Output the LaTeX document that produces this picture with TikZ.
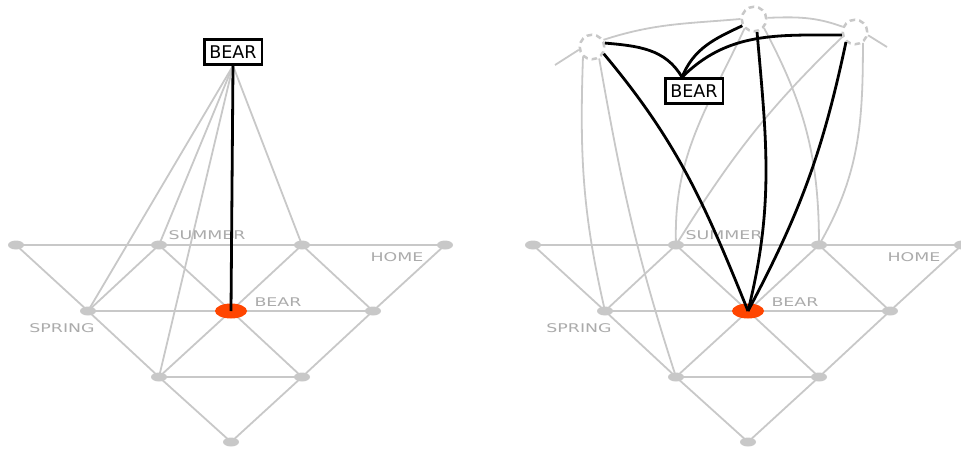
\documentclass[tikz,border=0pt]{standalone}
\usepackage{fontspec}
\setmainfont{DejaVu Sans}
\usepackage{graphicx}
\usetikzlibrary{shapes.geometric}

\definecolor{edgegray}{HTML}{C8C8C8}
\definecolor{labelgray}{HTML}{ABABAB}
\definecolor{hubred}{HTML}{FF4500}

\pgfdeclarelayer{bg}
\pgfsetlayers{bg,main}

\newcommand{\widelabel}[1]{\scalebox{1.45}[1]{#1}}

\tikzset{
  dot/.style={ellipse, fill=edgegray, minimum width=16pt, minimum height=9pt, inner sep=0pt},
  hub/.style={ellipse, fill=hubred, minimum width=32pt, minimum height=15pt, inner sep=0pt},
  lbl/.style={text=labelgray, font=\fontsize{12}{14}\selectfont, inner sep=0pt},
  card/.style={draw, line width=2.5pt, fill=white, font=\fontsize{17.5}{20}\selectfont,
    minimum width=57.5pt, minimum height=25pt, inner sep=0pt},
  ghost/.style={circle, draw=edgegray, dash pattern=on 5.5pt off 4pt, line width=2.5pt,
    minimum size=24.5pt, inner sep=0pt},
  grid edge/.style={draw=edgegray, line width=1.8pt},
  link/.style={draw=black, line width=2.8pt},
}

\begin{document}
\begin{tikzpicture}[x=1pt, y=1pt]
\useasboundingbox (0,0) rectangle (961,-453);

% the same word lattice twice, right copy shifted by 517
\foreach \p/\dx in {l/0, r/517} {
  \foreach \n/\x/\y in {1/16/245, 2/159/245, 3/302/245, 4/445/245, 5/88/311,
                        7/373/311, 8/159/377, 9/302/377, 10/231/442}
    \node[dot] (\p\n) at (\x+\dx,-\y) {};
  \node[hub] (\p6) at (231+\dx,-311) {};

  % grey words
  \node[lbl] (\p-summer) at (207+\dx,-235) {\widelabel{SUMMER}};
  \node[lbl] (\p-home)   at (397+\dx,-257) {\widelabel{HOME}};
  \node[lbl] (\p-bear)   at (278+\dx,-302) {\widelabel{BEAR}};
  \node[lbl] (\p-spring) at (62+\dx,-328)  {\widelabel{SPRING}};

  \begin{pgfonlayer}{bg}
    \foreach \a/\b in {1/2,2/3,3/4,1/5,2/5,2/6,3/6,3/7,4/7,5/6,6/7,
                       5/8,6/8,6/9,7/9,8/9,8/10,9/10}
      \draw[grid edge] (\p\a.center) -- (\p\b.center);
  \end{pgfonlayer}
}

% left: query word above the lattice
\node[card] (lbox) at (233,-52) {BEAR};
\begin{pgfonlayer}{bg}
  \foreach \t in {5,2,8,3}
    \draw[grid edge] (lbox.south) -- (l\t.center);
\end{pgfonlayer}
\draw[link] (lbox.south) -- (l6.center);

% right: query word with three senses
\node[card] (rbox) at (694,-91) {BEAR};
\node[ghost] (ga) at (592,-47) {};
\node[ghost] (gb) at (754,-19) {};
\node[ghost] (gc) at (855,-32) {};
\coordinate (rjoin) at ([xshift=-12pt]rbox.north);
\coordinate (astub) at (555,-65);
\coordinate (cstub) at (887,-47);

\begin{pgfonlayer}{bg}
  \draw[grid edge] (ga.192) -- (astub);
  \draw[grid edge] (gc.-14) -- (cstub);
  \draw[grid edge] (ga.32) to[out=18,in=185] (gb.180);
  \draw[grid edge] (gb.5) to[out=2,in=160] (gc.157);
  \draw[grid edge] (ga.228) to[out=-92,in=103] (r5.center);
  \draw[grid edge] (ga.-58) to[out=-80,in=108] (r8.center);
  \draw[grid edge] (gb.225) to[out=-115,in=92] (r2.center);
  \draw[grid edge] (gc.201) to[out=-136,in=58] (r2.center);
  \draw[grid edge] (gb.-42) to[out=-62,in=90] (r3.center);
  \draw[grid edge] (gc.-54) to[out=-90,in=60] (r3.center);
\end{pgfonlayer}

\draw[link] (ga.17) to[out=-5,in=120] (rjoin);
\draw[link] (gb.210) to[out=205,in=68] (rjoin);
\draw[link] (gc.193) to[out=180,in=45] (rjoin);
\draw[link] (ga.-30) to[out=-50,in=112] (r6.center);
\draw[link] (gb.-77) to[out=-85,in=76] (r6.center);
\draw[link] (gc.228) to[out=-102,in=62] (r6.center);

\end{tikzpicture}
\end{document}
